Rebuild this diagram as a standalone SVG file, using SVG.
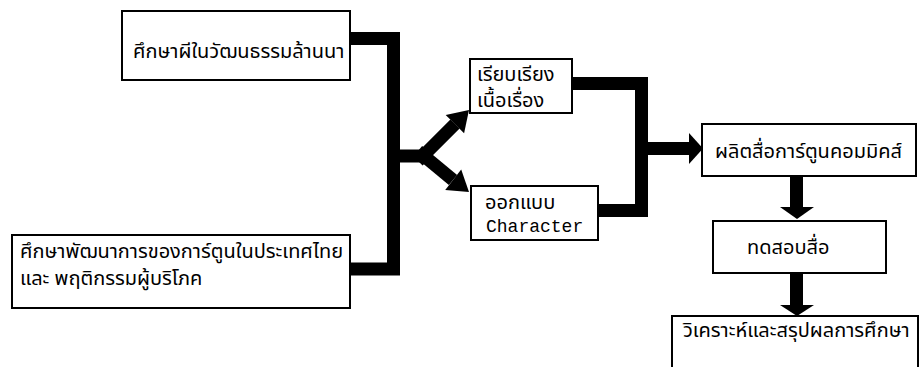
<svg xmlns="http://www.w3.org/2000/svg" width="919" height="367" viewBox="0 0 919 367">
<style>
.box{fill:#fff;stroke:#000;stroke-width:2}
.t{font-family:"Noto Sans Thai","Noto Sans","Liberation Sans",sans-serif;font-size:20px;fill:#000}
.m{font-family:"Liberation Mono","Courier New",monospace;font-size:18px;fill:#000}
.c{fill:none;stroke:#000;stroke-width:13;stroke-linejoin:miter;stroke-linecap:butt}
.h{fill:#000}
</style>
<rect width="919" height="367" fill="#fff"/>
<g id="connectors">
<path class="c" d="M350 38.5 H393.5 V269 H350"/>
<path class="c" d="M400 156 H425"/>
<path class="c" d="M418 161 L455 124"/>
<path class="c" d="M418 151 L453 180"/>
<polygon class="h" points="445.7,114.9 469,110 464.1,133.3"/>
<polygon class="h" points="445.2,189.9 469,192 461.2,169.5"/>
<path class="c" d="M572 83.5 H641.5 V210.5 H598"/>
<path class="c" d="M648 148.5 H691"/>
<polygon class="h" points="689,133 703,148.5 689,164"/>
<path class="c" d="M796.5 176 V208"/>
<polygon class="h" points="780,207 814,207 797,219"/>
<path class="c" d="M796.5 273 V306"/>
<polygon class="h" points="780,305 814,305 797,316"/>
</g>
<g id="n1"><rect class="box" x="122" y="11" width="228" height="69"/><text class="t" x="133" y="58">ศึกษาผีในวัฒนธรรมล้านนา</text></g>
<g id="n2"><rect class="box" x="12" y="235" width="338" height="73"/><text class="t" x="20" y="258">ศึกษาพัฒนาการของการ์ตูนในประเทศไทย</text><text class="t" x="20" y="285">และ พฤติกรรมผู้บริโภค</text></g>
<g id="n3"><rect class="box" x="470" y="59" width="102" height="54"/><text class="t" x="477" y="81" font-size="19">เรียบเรียง</text><text class="t" x="477" y="107" font-size="19">เนื้อเรื่อง</text></g>
<g id="n4"><rect class="box" x="471" y="186" width="127" height="54"/><text class="t" x="485" y="209">ออกแบบ</text><text class="m" x="486" y="232">Character</text></g>
<g id="n5"><rect class="box" x="702" y="124" width="214" height="52"/><text class="t" x="715" y="158">ผลิตสื่อการ์ตูนคอมมิคส์</text></g>
<g id="n6"><rect class="box" x="713" y="221" width="173" height="52"/><text class="t" x="747" y="254">ทดสอบสื่อ</text></g>
<g id="n7"><rect class="box" x="672" y="316" width="246" height="70"/><text class="t" x="683" y="337">วิเคราะห์และสรุปผลการศึกษา</text></g>
</svg>
